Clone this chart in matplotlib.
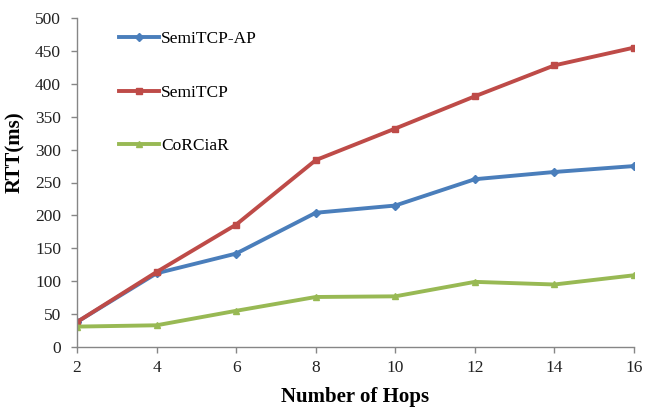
import matplotlib
matplotlib.use("Agg")
import matplotlib.pyplot as plt

hops = [2, 4, 6, 8, 10, 12, 14, 16]
semitcp_ap = [38, 112, 142, 204, 215, 255, 266, 275]
semitcp = [38, 114, 186, 284, 332, 381, 428, 455]
corciar = [31, 33, 55, 76, 77, 99, 95, 109]
yticks = [0, 50, 100, 150, 200, 250, 300, 350, 400, 450, 500]

plt.rcParams['font.family'] = ['Liberation Serif', 'DejaVu Serif']

fig = plt.figure(figsize=(6.46, 4.09), dpi=100)
ax = fig.add_axes([77/646, 1-347/409, (634-77)/646, (347-18)/409])

ax.plot(hops, semitcp_ap, color='#4A7EBB', lw=2.8, marker='D', ms=4, label='SemiTCP-AP')
ax.plot(hops, semitcp, color='#BE4B48', lw=2.8, marker='s', ms=5, label='SemiTCP')
ax.plot(hops, corciar, color='#98B954', lw=2.8, marker='^', ms=5, label='CoRCiaR')

ax.set_xlim(2, 16)
ax.set_ylim(0, 500)
ax.set_xticks(hops)
ax.set_yticks(yticks)
for s in ['top', 'right']:
    ax.spines[s].set_visible(False)
for s in ['left', 'bottom']:
    ax.spines[s].set_color('#868686')
    ax.spines[s].set_linewidth(1)
ax.tick_params(axis='both', colors='#868686', labelcolor='#222222', labelsize=12.5, length=4.5, width=1)
ax.tick_params(axis='y', pad=7)
ax.tick_params(axis='x', pad=5)

ax.set_xlabel('Number of Hops', fontsize=15, fontweight='bold', labelpad=8)
ax.set_ylabel('RTT(ms)', fontsize=15, fontweight='bold')
ax.yaxis.set_label_coords(-0.093, 0.593)

leg = ax.legend(loc='upper left', bbox_to_anchor=(0.06, 0.987), frameon=False, fontsize=12.5,
                borderpad=0, labelspacing=2.15, handlelength=2.3, handletextpad=0.1)

fig.savefig('out.png', dpi=100)
